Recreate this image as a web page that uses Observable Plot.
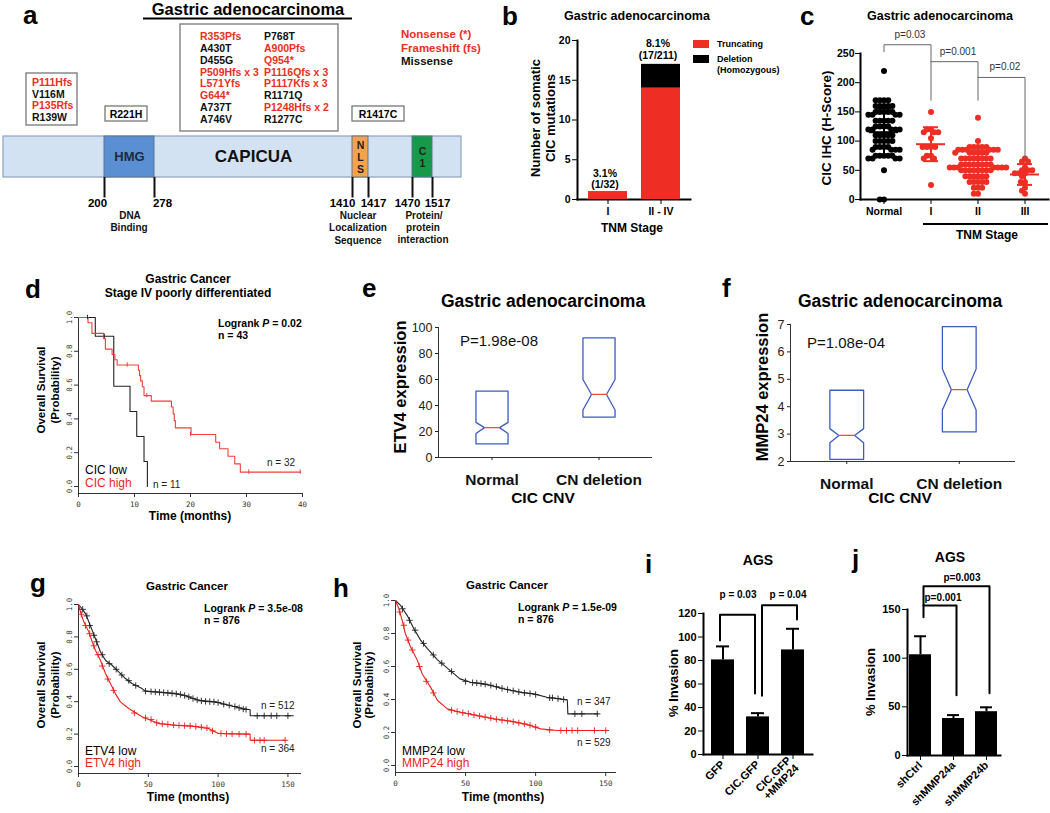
<!DOCTYPE html>
<html><head><meta charset="utf-8">
<script src="https://cdn.jsdelivr.net/npm/d3@7"></script>
<script src="https://cdn.jsdelivr.net/npm/@observablehq/plot@0.6"></script>
<style>
body{margin:0;background:#fff;}
#root{position:relative;width:1050px;height:813px;overflow:hidden;background:#fff;font-family:"Liberation Sans",Arial,sans-serif;}
#root svg{position:absolute;overflow:visible;}
.prism line{stroke-width:2px;}
</style></head><body><div id="root"></div><script>
// ================= DATA =================
// panel a : CIC protein
const proteinLength = 1608;
const domainNames = ["HMG","NLS","C1"];
const domainStarts = [200,1410,1470];
const domainEnds = [278,1417,1517];
const domainLabels = ["HMG","N\nL\nS","C\n1"];
const mutBox1 = ["P111Hfs","V116M","P135Rfs","R139W"];
const mutBox2 = ["R221H"];
const mutBoxLeft = ["R353Pfs","A430T","D455G","P509Hfs x 3","L571Yfs","G644*","A737T","A746V"];
const mutBoxRight = ["P768T","A900Pfs","Q954*","P1116Qfs x 3","P1117Kfs x 3","R1171Q","P1248Hfs x 2","R1277C"];
const mutBox4 = ["R1417C"];
const mutLegend = ["Nonsense (*)","Frameshift (fs)","Missense"];

// panel b
const bStages = ["I","II - IV"];
const bTruncating = [1, 14];
const bDeletion = [0, 3];
const bTypes = ["Truncating","Deletion (Homozygous)"];
const bPct = ["3.1%","8.1%"];
const bFrac = ["(1/32)","(17/211)"];

// panel c : CIC IHC H-score
const cGroups = ["Normal","I","II","III"];
const cNormal = [220,170,170,170,170,160,160,160,160,160,150,150,150,150,150,145,145,145,145,135,135,135,135,135,125,125,125,125,120,120,120,120,120,110,110,110,110,110,100,100,100,100,100,90,90,90,90,85,85,85,85,75,75,75,75,75,70,70,70,70,50,0,0];
const cStageI = [150,120,120,115,115,115,105,90,90,90,90,75,75,70,70,25];
const cStageII = [140,100,90,90,90,90,90,85,85,85,85,85,85,80,80,80,80,80,80,70,70,70,70,70,70,70,70,60,60,60,60,60,60,60,60,55,55,55,55,55,55,55,50,50,50,50,50,50,50,50,40,40,40,40,40,40,30,30,30,30,30,20,20,20,10,10];
const cStageIII = [70,65,65,55,50,50,50,45,45,45,40,30,30,20,15,10];
const cBrackets = [["p1","Normal",253],["p1","Normal",265],["p1","I",265],["p1","I",170],
  ["p2","I",236],["p2","II",236],["p2","II",170],
  ["p3","II",209],["p3","III",209],["p3","III",72]];

// panel d : KM, CIC low / high
const dLow = [[0,1],[3.0,0.889],[6.3,0.593],[9.2,0.444],[10.4,0.296],[11.7,0.148],[12.3,0]];
const dHigh = [[0,1],[1.7,0.969],[2.4,0.906],[4.5,0.875],[4.8,0.813],[6.0,0.781],[6.5,0.75],[6.9,0.719],[10.7,0.688],[10.9,0.656],[11.1,0.625],[11.4,0.59],[11.7,0.538],[13.0,0.505],[16.6,0.47],[16.9,0.43],[17.1,0.39],[17.3,0.347],[20.1,0.308],[24.5,0.262],[25.2,0.223],[26.7,0.179],[27.9,0.134],[28.9,0.085],[39.6,0.085]];
const dLowCensor = [[1.6,1.0],[4.6,0.889]];
const dHighCensor = [[8.7,0.719],[12.2,0.538],[20.0,0.308],[30.4,0.085],[39.6,0.085]];

// panel g : KM, ETV4
const gLow = [[0,1],[2,0.98],[5,0.944],[9.8,0.84],[12.1,0.79],[15.7,0.708],[19.3,0.656],[24,0.625],[28.8,0.584],[33.6,0.543],[38.3,0.512],[45.5,0.481],[47.9,0.465],[57.4,0.46],[69.3,0.45],[76.4,0.437],[85.9,0.409],[97.9,0.399],[109.8,0.374],[116.9,0.358],[122.9,0.35],[123,0.313],[153.8,0.313]];
const gHigh = [[0,1],[1.4,0.955],[3.8,0.893],[7.4,0.831],[9.8,0.77],[12.1,0.718],[15.7,0.656],[19.3,0.574],[22.9,0.512],[26.4,0.45],[30,0.399],[36,0.358],[45.5,0.307],[57.4,0.265],[69.3,0.255],[81.2,0.249],[93.1,0.235],[100.2,0.204],[122.9,0.2],[123,0.162],[147.9,0.162]];
const gLowCensor = [[3,0.97],[6,0.93],[8,0.87],[11,0.81],[13,0.77],[17,0.69],[22,0.635],[27,0.6],[31,0.565],[36,0.53],[41,0.5],[48,0.465],[52,0.462],[55,0.46],[58,0.458],[61,0.456],[64,0.454],[67,0.452],[70,0.449],[73,0.445],[76,0.438],[79,0.43],[82,0.42],[85,0.411],[88,0.405],[91,0.402],[94,0.4],[97,0.399],[100,0.395],[104,0.385],[108,0.378],[112,0.37],[115,0.362],[118,0.355],[120,0.352],[128,0.313],[133,0.313],[138,0.313],[142,0.313],[150,0.313]];
const gHighCensor = [[2,0.94],[5,0.87],[8,0.82],[11,0.745],[14,0.69],[17,0.62],[21,0.54],[25,0.47],[40,0.33],[48,0.3],[52,0.29],[56,0.27],[60,0.263],[64,0.26],[68,0.256],[72,0.254],[76,0.252],[80,0.25],[84,0.247],[88,0.243],[92,0.238],[96,0.22],[102,0.204],[106,0.202],[110,0.201],[115,0.2],[120,0.2],[126,0.162],[130,0.162],[133,0.162],[148,0.162]];

// panel h : KM, MMP24
const hLow = [[0,1],[3.6,0.97],[8.3,0.91],[13,0.83],[17.9,0.76],[22.6,0.71],[30,0.64],[37,0.59],[46,0.525],[53.6,0.505],[65.5,0.49],[77,0.465],[89,0.444],[98.8,0.434],[108,0.414],[122.6,0.398],[123,0.313],[144.5,0.313]];
const hHigh = [[0,1],[2.4,0.95],[4.8,0.88],[7,0.8],[10.7,0.72],[15.5,0.64],[19,0.556],[25,0.475],[30,0.394],[37,0.343],[46,0.323],[58,0.303],[70,0.283],[82,0.269],[94,0.248],[103.6,0.222],[115.5,0.212],[152,0.212]];
const hLowCensor = [[5,0.95],[10,0.88],[14,0.82],[20,0.74],[27,0.67],[33,0.62],[40,0.57],[50,0.51],[55,0.502],[58,0.5],[61,0.497],[64,0.493],[68,0.486],[72,0.478],[76,0.468],[80,0.46],[84,0.453],[88,0.446],[92,0.44],[96,0.436],[100,0.43],[110,0.41],[112,0.41],[116,0.405],[120,0.4],[128,0.313],[133,0.313],[144,0.313]];
const hHighCensor = [[3,0.93],[6,0.85],[9,0.76],[12,0.7],[17,0.6],[22,0.51],[27,0.44],[40,0.335],[44,0.327],[48,0.32],[52,0.315],[56,0.307],[60,0.3],[64,0.293],[68,0.287],[72,0.28],[76,0.275],[80,0.27],[84,0.265],[88,0.258],[92,0.252],[96,0.244],[100,0.233],[110,0.215],[118,0.212],[122,0.212],[126,0.212],[130,0.212],[142,0.212],[150,0.212]];

// panel e / f : notched boxes
const efGroups = ["Normal","CN deletion"];
const eQ1 = [10.5,31], eNotchLo = [18.5,36.5], eMedian = [23,48.5], eNotchHi = [27,60], eQ3 = [51,92];
const fQ1 = [2.08,3.08], fNotchLo = [2.68,3.88], fMedian = [2.95,4.62], fNotchHi = [3.2,5.38], fQ3 = [4.6,6.92];

// panel i / j : invasion
const iGroups = ["GFP","CIC.GFP","CIC.GFP\n+MMP24"];
const iMeans = [80.5,32,89];
const iErr = [92,35.2,107];
const iBrackets = [["A","GFP",97],["A","GFP",119],["A","CIC.GFP",119],["A","CIC.GFP",52],
  ["B","CIC.GFP",50],["B","CIC.GFP",127],["B","CIC.GFP\n+MMP24",127],["B","CIC.GFP\n+MMP24",115]];
const jGroups = ["shCtrl","shMMP24a","shMMP24b"];
const jMeans = [103.5,38,45];
const jErr = [122.5,41.5,49.5];
const jBrackets = [["A","shCtrl",142],["A","shCtrl",154],["A","shMMP24a",154],["A","shMMP24a",62],
  ["B","shCtrl",154],["B","shCtrl",174],["B","shMMP24b",174],["B","shMMP24b",64]];

// ================= HELPERS =================
const FONT = '"Liberation Sans", Arial, Helvetica, sans-serif';
const RED = "#ee2e24";
const root = document.getElementById("root");
function geom(x0,y0,x1,y1,[mt,mr,mb,ml]) {
  return {width:x1-x0+ml+mr, height:y1-y0+mt+mb, marginTop:mt, marginRight:mr, marginBottom:mb, marginLeft:ml, _left:x0-ml, _top:y0-mt};
}
function mount(opts, g, cls) {
  const {_left,_top,...dims} = g;
  const svg = Plot.plot({...dims, ...opts});
  svg.style.position = "absolute"; svg.style.left = _left+"px"; svg.style.top = _top+"px";
  if (cls) svg.classList.add(cls);
  root.appendChild(svg);
  return svg;
}
const prismStyle = {fontFamily:FONT, fontSize:"10.5px", fontWeight:"bold", background:"transparent", color:"#000", overflow:"visible"};
const rStyle = {fontFamily:'"DejaVu Sans Mono", monospace', fontSize:"7.5px", fontWeight:"normal", background:"transparent", color:"#333", overflow:"visible"};
const isRed = m => /fs|\*/.test(m);

// ================= PANEL a =================
const aRows = domainNames.map((n,i)=>({name:n, start:domainStarts[i], end:domainEnds[i], label:domainLabels[i]}));
const aBounds = aRows.flatMap(d=>[{pos:d.start, side:"start"},{pos:d.end, side:"end"}]);
// horizontal offsets of the boundary number labels (layout only)
const aLabelShift = {200:-7, 278:8, 1410:-10, 1417:5, 1470:-5, 1517:5};
mount({
  style:{...prismStyle, fontSize:"11.5px"},
  x:{type:"linear", domain:[0, ...aBounds.map(d=>d.pos), proteinLength], range:[3,104,154,352,368,412,432,461], axis:null},
  y:{domain:[-1,1], axis:null},
  color:{domain:domainNames, range:["#5b8fd4","#f5a24c","#159a4a"]},
  marks:[
    Plot.rect([{s:0, e:proteinLength}], {x1:"s", x2:"e", y1:0, y2:1, fill:"#d2e2f3", stroke:"#8ea3bb", strokeWidth:1.2}),
    Plot.rect(aRows, {x1:"start", x2:"end", y1:0, y2:1, fill:"name", stroke:"#5f738c"}),
    Plot.text(aRows.filter(d=>d.name==="HMG"), {x:d=>(d.start+d.end)/2, y:0.5, text:"label", fontSize:13, fill:"#1d2a3a"}),
    Plot.text(aRows.filter(d=>d.name!=="HMG"), {x:d=>(d.start+d.end)/2, y:0.5, text:"label", fontSize:10.5, lineHeight:1.15, fill:"#222"}),
    Plot.text(["CAPICUA"], {x:[(domainEnds[0]+domainStarts[1])/2], y:[0.5], text:d=>d, fontSize:17, fill:"#111"}),
    Plot.ruleX(aBounds, {x:"pos", y1:0, y2:-0.5, strokeWidth:2, stroke:"#111"}),
    ...aBounds.map(b=>Plot.text([b], {x:"pos", y:-0.63, text:d=>String(d.pos), dx:aLabelShift[b.pos], fontSize:11.5}))
  ]
}, {width:470, height:90, marginTop:6, marginBottom:2, marginLeft:0, marginRight:0, _left:0, _top:130});

// ================= PANEL b =================
const bRows = bStages.flatMap((s,i)=>[{stage:s, type:bTypes[0], n:bTruncating[i]},{stage:s, type:bTypes[1], n:bDeletion[i]}]);
mount({
  style:prismStyle,
  x:{domain:bStages, paddingInner:0.27, paddingOuter:0.2, label:null, tickSize:5, tickPadding:3, line:true},
  y:{domain:[0,20], ticks:[0,5,10,15,20], label:null, tickSize:5, tickPadding:2, line:true},
  color:{domain:bTypes, range:[RED,"#000"]},
  marks:[Plot.barY(bRows, {x:"stage", y:"n", fill:"type"})]
}, geom(577,40,690,199,[10,8,24,30]), "prism");

// ================= PANEL c =================
const cRows = [
  ...cNormal.map(v=>({group:"Normal", value:v})),
  ...cStageI.map(v=>({group:"I", value:v})),
  ...cStageII.map(v=>({group:"II", value:v})),
  ...cStageIII.map(v=>({group:"III", value:v}))];
const cStats = cGroups.map(g=>{const v = cRows.filter(d=>d.group===g).map(d=>d.value); const m = d3.mean(v), s = d3.deviation(v); return {group:g, mean:m, lo:m-s, hi:m+s};});
const cColor = {domain:cGroups, range:["#000",RED,RED,RED]};
const cG = geom(860,53,1048,199,[40,2,25,45]);
mount({
  style:prismStyle,
  fx:{domain:cGroups, padding:0, axis:null},
  y:{domain:[0,250], axis:null},
  color:cColor,
  marks:[Plot.dot(cRows, Plot.dodgeX({anchor:"middle", padding:-1.8}, {fx:"group", y:"value", r:3, fill:"group"}))]
}, cG);
mount({
  style:prismStyle,
  x:{domain:cGroups, padding:0, label:null, tickSize:5, tickPadding:3, line:true},
  y:{domain:[0,250], ticks:[0,50,100,150,200,250], label:null, tickSize:5, tickPadding:1, line:true},
  color:cColor,
  marks:[
    Plot.tickY(cStats, {x:"group", y:"mean", stroke:"group", insetLeft:9, insetRight:9}),
    Plot.ruleX(cStats, {x:"group", y1:"lo", y2:"hi", stroke:"group"}),
    Plot.tickY(cStats, {x:"group", y:"lo", stroke:"group", insetLeft:16, insetRight:16}),
    Plot.tickY(cStats, {x:"group", y:"hi", stroke:"group", insetLeft:16, insetRight:16}),
    Plot.line(cBrackets, {x:d=>d[1], y:d=>d[2], z:d=>d[0], stroke:"#666", strokeWidth:1})
  ]
}, cG, "prism");

// ================= KM panels d, g, h =================
function km({low, high, lowC, highC, xmax, xticks, g, redColor, cross}) {
  const marks = [
    Plot.line(low, {x:d=>d[0], y:d=>d[1], curve: cross ? "linear" : "step-after", stroke:"#222", strokeWidth:1.1}),
    Plot.line(high, {x:d=>d[0], y:d=>d[1], curve: cross ? "linear" : "step-after", stroke:redColor, strokeWidth:1.1})
  ];
  if (cross) {
    marks.push(Plot.dot(lowC, {x:d=>d[0], y:d=>d[1], symbol:"plus", r:2.2, stroke:"#222", strokeWidth:0.9}));
    marks.push(Plot.dot(highC, {x:d=>d[0], y:d=>d[1], symbol:"plus", r:2.2, stroke:redColor, strokeWidth:0.9}));
  } else {
    marks.push(Plot.ruleX(lowC, {x:d=>d[0], y1:d=>d[1]-0.013, y2:d=>d[1]+0.013, stroke:"#222"}));
    marks.push(Plot.ruleX(highC, {x:d=>d[0], y1:d=>d[1]-0.013, y2:d=>d[1]+0.013, stroke:redColor}));
  }
  return mount({
    style:rStyle,
    x:{domain:[0,xmax], ticks:xticks, tickSize:4, tickPadding:4, line:true, label:null},
    y:{domain:[0,1], ticks:[0,0.2,0.4,0.6,0.8,1], tickFormat:d3.format(".1f"), tickRotate:-90, tickSize:4, tickPadding:3, line:true, insetBottom:7, label:null},
    marks
  }, g);
}
km({low:dLow, high:dHigh, lowC:dLowCensor, highC:dHighCensor, xmax:40, xticks:[0,10,20,30,40], g:geom(78,317,302,493,[6,10,22,22]), redColor:"#f2403a", cross:false});
km({low:gLow, high:gHigh, lowC:gLowCensor, highC:gHighCensor, xmax:159, xticks:[0,50,100,150], g:geom(78,604,300,773,[6,10,22,22]), redColor:"#f01e1e", cross:true});
km({low:hLow, high:hHigh, lowC:hLowCensor, highC:hHighCensor, xmax:157, xticks:[0,50,100,150], g:geom(395,600,615,772,[6,10,22,22]), redColor:"#f01e1e", cross:true});

// ================= PANELS e, f =================
function notched(q1, nlo, med, nhi, q3, yDomain, yTicks, g) {
  const w = 0.15, nw = 0.07;
  const poly = efGroups.flatMap((grp,k)=>{ const i = k+1;
    return [[i-w,q1[k]],[i+w,q1[k]],[i+w,nlo[k]],[i+nw,med[k]],[i+w,nhi[k]],[i+w,q3[k]],[i-w,q3[k]],[i-w,nhi[k]],[i-nw,med[k]],[i-w,nlo[k]],[i-w,q1[k]]].map(p=>({grp, x:p[0], y:p[1]}));});
  const meds = efGroups.flatMap((grp,k)=>[{grp, x:k+1-nw, y:med[k]},{grp, x:k+1+nw, y:med[k]}]);
  return mount({
    style:{...prismStyle, fontWeight:"normal", fontSize:"12.5px", color:"#222"},
    x:{domain:[0.5,2.5]},
    y:{domain:yDomain},
    marks:[
      Plot.ruleY([yDomain[0]], {stroke:"#333"}),
      Plot.ruleX([0.5], {stroke:"#333"}),
      Plot.axisY({ticks:yTicks, tickFormat:d3.format("d"), tickSize:3, tickPadding:3, label:null, fontSize:12.5}),
      Plot.axisX({ticks:[1,2], tickFormat:i=>efGroups[i-1], tickSize:3, tickPadding:13, label:null, fontSize:15.5, fontWeight:"bold", fill:"#111"}),
      Plot.line(poly, {x:"x", y:"y", z:"grp", stroke:"#3b5cc4", strokeWidth:1.3}),
      Plot.line(meds, {x:"x", y:"y", z:"grp", stroke:"#e8522c", strokeWidth:1.3})
    ]
  }, g);
}
notched(eQ1, eNotchLo, eMedian, eNotchHi, eQ3, [0,100], [0,20,40,60,80,100], geom(438,327,652,457,[6,6,50,40]));
notched(fQ1, fNotchLo, fMedian, fNotchHi, fQ3, [2,7], [2,3,4,5,6,7], geom(790,324,1015,461,[6,6,50,40]));

// ================= PANELS i, j =================
function invasion(groups, means, errs, brackets, yDomain, yTicks, padIn, padOut, g, dxA, dxB) {
  const rows = groups.map((grp,k)=>({group:grp, mean:means[k], err:errs[k]}));
  return mount({
    style:{...prismStyle, fontSize:"11px"},
    x:{domain:groups, paddingInner:padIn, paddingOuter:padOut, label:null, tickSize:5, tickPadding:3, tickRotate:-45, line:true},
    y:{domain:yDomain, ticks:yTicks, label:null, tickSize:5, tickPadding:2, line:true},
    marks:[
      Plot.barY(rows, {x:"group", y:"mean", fill:"#000"}),
      Plot.ruleX(rows, {x:"group", y1:"mean", y2:"err"}),
      Plot.tickY(rows, {x:"group", y:"err", insetLeft:5, insetRight:5}),
      Plot.line(brackets.filter(d=>d[0]==="A"), {x:d=>d[1], y:d=>d[2], stroke:"#000", strokeWidth:2, dx:dxA}),
      Plot.line(brackets.filter(d=>d[0]==="B"), {x:d=>d[1], y:d=>d[2], stroke:"#000", strokeWidth:2, dx:dxB})
    ]
  }, g, "prism");
}
invasion(iGroups, iMeans, iErr, iBrackets, [0,120], [0,20,40,60,80,100,120], 0.35, 0.2, geom(703,613,812,754,[20,10,60,35]), -3, 4);
invasion(jGroups, jMeans, jErr, jBrackets, [0,150], [0,50,100,150], 0.333, 0.075, geom(907,609,1000,755,[20,10,60,35]), 3, 3);

// ================= ANNOTATIONS =================
const ann = d3.select(root).append("svg").attr("width",1050).attr("height",813)
  .style("left","0px").style("top","0px").style("pointer-events","none").style("font-family",FONT);
function T(x, y, str, {size=12, weight="bold", anchor="start", fill="#000", rot=0, italicP=false}={}) {
  const t = ann.append("text").attr("transform",`translate(${x},${y}) rotate(${rot})`)
    .attr("text-anchor",anchor).attr("font-size",size).attr("font-weight",weight).attr("fill",fill);
  if (italicP) {
    const [a,b] = str.split("P");
    t.append("tspan").text(a); t.append("tspan").attr("font-style","italic").text("P"); t.append("tspan").text(b);
  } else t.text(str);
  return t;
}
function R(x,y,w,h,{fill="none",stroke="#777",sw=1.3}={}) {
  ann.append("rect").attr("x",x).attr("y",y).attr("width",w).attr("height",h).attr("fill",fill).attr("stroke",stroke).attr("stroke-width",sw);
}
function L(x1,y1,x2,y2,sw=2,stroke="#000") {
  ann.append("line").attr("x1",x1).attr("y1",y1).attr("x2",x2).attr("y2",y2).attr("stroke",stroke).attr("stroke-width",sw);
}
// panel letters
[["a",23,24],["b",502,25],["c",800,25],["d",25,298],["e",362,297],["f",722,297],["g",30,592],["h",333,597],["i",645,573],["j",852,568]]
  .forEach(([s,x,y])=>T(x,y,s,{size:26}));

// panel a
T(248,15,"Gastric adenocarcinoma",{size:16.5,anchor:"middle"});
L(143,18.5,352,18.5,2);
R(26,73,51,52);
mutBox1.forEach((m,k)=>T(32,86+k*11.7,m,{size:10.5,fill:isRed(m)?RED:"#111"}));
R(105,106,42,15);
T(126,117.5,mutBox2[0],{size:10.5,anchor:"middle"});
R(180,24,158,107);
mutBoxLeft.forEach((m,k)=>T(200,40+k*11.85,m,{size:10.5,fill:isRed(m)?RED:"#111"}));
mutBoxRight.forEach((m,k)=>T(264,40+k*11.85,m,{size:10.5,fill:isRed(m)?RED:"#111"}));
R(352,106,52,15);
T(378,117.5,mutBox4[0],{size:10.5,anchor:"middle"});
mutLegend.forEach((m,k)=>T(401,38+k*13.5,m,{size:11.5,fill:k<2?RED:"#111"}));
[["DNA",130,219],["Binding",129,231],["Nuclear",358,219],["Localization",358,231],["Sequence",358,244],["Protein/",424,219],["protein",423,231],["interaction",423,243]]
  .forEach(([s,x,y])=>T(x,y,s,{size:10,anchor:"middle",fill:"#111"}));

// panel b
T(637,20,"Gastric adenocarcinoma",{size:12.5,anchor:"middle"});
T(540,118,"Number of somatic",{size:13,anchor:"middle",rot:-90});
T(555,118,"CIC mutations",{size:13,anchor:"middle",rot:-90});
T(605,177,bPct[0],{size:10.5,anchor:"middle"}); T(605,188,bFrac[0],{size:10.5,anchor:"middle"});
T(658,47,bPct[1],{size:10.5,anchor:"middle"}); T(658,59,bFrac[1],{size:10.5,anchor:"middle"});
R(693,40,16,8,{fill:RED,stroke:"none"}); R(693,55,16,8,{fill:"#000",stroke:"none"});
T(717,47,"Truncating",{size:9}); T(717,62,"Deletion",{size:9}); T(717,73,"(Homozygous)",{size:9});
T(632,232,"TNM Stage",{size:12,anchor:"middle"});

// panel c
T(940,20,"Gastric adenocarcinoma",{size:12.5,anchor:"middle"});
T(831,128,"CIC IHC (H-Score)",{size:13.5,anchor:"middle",rot:-90});
T(910,38,"p=0.03",{size:10,weight:"normal",anchor:"middle",fill:"#333"});
T(958,55,"p=0.001",{size:10,weight:"normal",anchor:"middle",fill:"#333"});
T(1005,70,"p=0.02",{size:10,weight:"normal",anchor:"middle",fill:"#333"});
L(923,224,1048,224,2);
T(987,239,"TNM Stage",{size:12,anchor:"middle"});

// panel d
T(188,283,"Gastric Cancer",{size:12,anchor:"middle"});
T(188,297,"Stage IV poorly differentiated",{size:12,anchor:"middle"});
T(45,390,"Overall Survival",{size:11.5,anchor:"middle",rot:-90});
T(59,390,"(Probability)",{size:11.5,anchor:"middle",rot:-90});
T(190,520,"Time (months)",{size:12,anchor:"middle"});
T(218,327,"Logrank P = 0.02",{size:10.5,italicP:true});
T(218,339,"n = 43",{size:10.5});
T(85,474,"CIC low",{size:12,weight:"500"});
T(85,487,"CIC high",{size:12,weight:"500",fill:"#f01e1e"});
T(153,488,"n = 11",{size:10,weight:"normal",fill:"#222"});
T(267,466,"n = 32",{size:10,weight:"normal",fill:"#222"});

// panel e
T(543,307,"Gastric adenocarcinoma",{size:17.5,anchor:"middle"});
T(406,387,"ETV4 expression",{size:16.5,anchor:"middle",rot:-90});
T(460,346,"P=1.98e-08",{size:15,weight:"normal",fill:"#111"});
T(543,503,"CIC CNV",{size:15.5,anchor:"middle"});
// panel f
T(900,307,"Gastric adenocarcinoma",{size:17.5,anchor:"middle"});
T(768,387,"MMP24 expression",{size:16.5,anchor:"middle",rot:-90});
T(807,348,"P=1.08e-04",{size:15,weight:"normal",fill:"#111"});
T(900,503,"CIC CNV",{size:15.5,anchor:"middle"});

// panel g
T(187,590,"Gastric Cancer",{size:11.5,anchor:"middle"});
T(45,685,"Overall Survival",{size:11.5,anchor:"middle",rot:-90});
T(59,685,"(Probability)",{size:11.5,anchor:"middle",rot:-90});
T(188,801,"Time (months)",{size:12,anchor:"middle"});
T(204,612,"Logrank P = 3.5e-08",{size:10.5,italicP:true});
T(204,624,"n = 876",{size:10.5});
T(261,709,"n = 512",{size:10,weight:"normal",fill:"#222"});
T(261,752,"n = 364",{size:10,weight:"normal",fill:"#222"});
T(85,755,"ETV4 low",{size:12,weight:"500"});
T(85,767,"ETV4 high",{size:12,weight:"500",fill:"#f01e1e"});
// panel h
T(507,589,"Gastric Cancer",{size:11.5,anchor:"middle"});
T(361,685,"Overall Survival",{size:11.5,anchor:"middle",rot:-90});
T(373,685,"(Probability)",{size:11.5,anchor:"middle",rot:-90});
T(503,801,"Time (months)",{size:12,anchor:"middle"});
T(518,611,"Logrank P = 1.5e-09",{size:10.5,italicP:true});
T(518,623,"n = 876",{size:10.5});
T(577,705,"n = 347",{size:10,weight:"normal",fill:"#222"});
T(577,746,"n = 529",{size:10,weight:"normal",fill:"#222"});
T(402,755,"MMP24 low",{size:12,weight:"500"});
T(402,767,"MMP24 high",{size:12,weight:"500",fill:"#f01e1e"});

// panel i
T(758,565,"AGS",{size:14,anchor:"middle"});
T(678,683,"% Invasion",{size:13,anchor:"middle",rot:-90});
T(738,598,"p = 0.03",{size:10,anchor:"middle"});
T(788,598,"p = 0.04",{size:10,anchor:"middle"});
// panel j
T(950,562,"AGS",{size:14,anchor:"middle"});
T(875,682,"% Invasion",{size:13,anchor:"middle",rot:-90});
T(962,581,"p=0.003",{size:10,anchor:"middle"});
T(943,601,"p=0.001",{size:10,anchor:"middle"});
</script></body></html>
